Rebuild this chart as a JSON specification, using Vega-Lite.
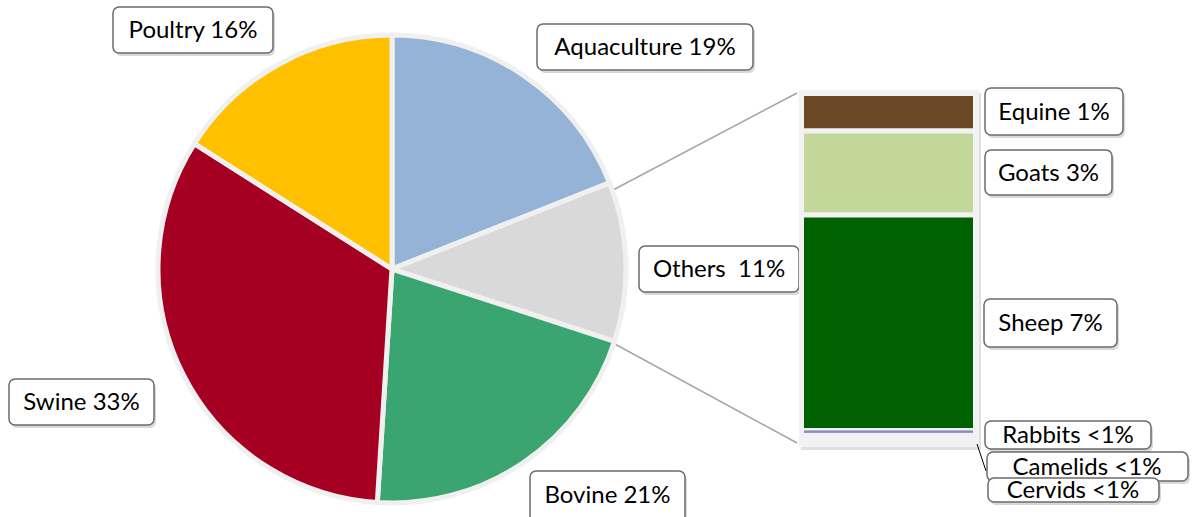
{
  "$schema": "https://vega.github.io/schema/vega-lite/v6.json",
  "width": 1192,
  "height": 517,
  "autosize": {"type": "fit", "contains": "padding"},
  "padding": 0,
  "background": "#ffffff",
  "config": {"view": {"stroke": null}, "axis": {"disable": true}},
  "datasets": {
    "main": [
      {"category": "Aquaculture", "value": 19, "idx": 1},
      {"category": "Others", "value": 11, "idx": 2},
      {"category": "Bovine", "value": 21, "idx": 3},
      {"category": "Swine", "value": 33, "idx": 4},
      {"category": "Poultry", "value": 16, "idx": 5}
    ],
    "others": [
      {"category": "Equine", "value": 1.21, "idx": 1},
      {"category": "Goats", "value": 2.71, "idx": 2},
      {"category": "Sheep", "value": 6.95, "idx": 3},
      {"category": "Rabbits", "value": 0.04, "idx": 4},
      {"category": "Camelids", "value": 0.02, "idx": 5},
      {"category": "Cervids", "value": 0.02, "idx": 6}
    ]
  },
  "layer": [
    {
      "layer": [
        {
          "data": {"values": [{}]},
          "mark": {"type": "rule", "color": "#a6a6a6", "strokeWidth": 1.5},
          "encoding": {
            "x": {"datum": 613, "type": "quantitative", "scale": {"domain": [0, 1192], "nice": false, "zero": false}, "axis": null},
            "y": {"datum": 190, "type": "quantitative", "scale": {"domain": [0, 517], "reverse": true, "nice": false, "zero": false}, "axis": null},
            "x2": {"datum": 797},
            "y2": {"datum": 93}
          }
        },
        {
          "data": {"values": [{}]},
          "mark": {"type": "rule", "color": "#a6a6a6", "strokeWidth": 1.5},
          "encoding": {
            "x": {"datum": 613},
            "y": {"datum": 343},
            "x2": {"datum": 797},
            "y2": {"datum": 443}
          }
        },
        {
          "data": {"name": "main"},
          "mark": {"type": "arc", "outerRadius": 234, "stroke": "#f0f0f0", "strokeWidth": 5},
          "encoding": {
            "theta": {"field": "value", "type": "quantitative", "stack": true},
            "order": {"field": "idx", "type": "quantitative"},
            "color": {
              "field": "category",
              "type": "nominal",
              "legend": null,
              "scale": {
                "domain": ["Aquaculture", "Others", "Bovine", "Swine", "Poultry", "Equine", "Goats", "Sheep", "Rabbits", "Camelids", "Cervids"],
                "range": ["#95B3D7", "#D9D9D9", "#3BA571", "#A50021", "#FFC000", "#6B4725", "#C4D79B", "#006100", "#7676B6", "#7070B0", "#8080C0"]
              }
            },
            "x": {"datum": 392},
            "y": {"datum": 269}
          }
        },
        {
          "data": {"values": [{}]},
          "mark": {"type": "rect", "fill": "#000000", "opacity": 0.12, "xOffset": 2, "x2Offset": 2, "yOffset": 3, "y2Offset": 3},
          "encoding": {"x": {"datum": 799}, "x2": {"datum": 979}, "y": {"datum": 90}, "y2": {"datum": 447}}
        },
        {
          "data": {"values": [{}]},
          "mark": {"type": "rect", "fill": "#f2f2f2"},
          "encoding": {"x": {"datum": 799}, "x2": {"datum": 979}, "y": {"datum": 90}, "y2": {"datum": 447}}
        },
        {
          "data": {"values": [{}]},
          "mark": {"type": "rule", "color": "#000000", "strokeWidth": 1},
          "encoding": {"x": {"datum": 977}, "y": {"datum": 444}, "x2": {"datum": 986}, "y2": {"datum": 471}}
        },
        {
          "data": {"values": [{"t": "Poultry 16%"}]},
          "layer": [
            {"mark": {"type": "rect", "fill": "#000", "opacity": 0.15, "cornerRadius": 6, "xOffset": 2, "x2Offset": 2, "yOffset": 3, "y2Offset": 3}, "encoding": {"x": {"datum": 113}, "x2": {"datum": 273}, "y": {"datum": 7}, "y2": {"datum": 53}}},
            {"mark": {"type": "rect", "fill": "#fff", "stroke": "#6b6b6b", "strokeWidth": 1.5, "cornerRadius": 6}, "encoding": {"x": {"datum": 113}, "x2": {"datum": 273}, "y": {"datum": 7}, "y2": {"datum": 53}}},
            {"mark": {"type": "text", "font": "Lato", "fontSize": 24, "color": "#000", "align": "center", "baseline": "middle"}, "encoding": {"x": {"datum": 193}, "y": {"datum": 31}, "text": {"field": "t"}}}
          ]
        },
        {
          "data": {"values": [{"t": "Aquaculture 19%"}]},
          "layer": [
            {"mark": {"type": "rect", "fill": "#000", "opacity": 0.15, "cornerRadius": 6, "xOffset": 2, "x2Offset": 2, "yOffset": 3, "y2Offset": 3}, "encoding": {"x": {"datum": 537}, "x2": {"datum": 753}, "y": {"datum": 24}, "y2": {"datum": 70}}},
            {"mark": {"type": "rect", "fill": "#fff", "stroke": "#6b6b6b", "strokeWidth": 1.5, "cornerRadius": 6}, "encoding": {"x": {"datum": 537}, "x2": {"datum": 753}, "y": {"datum": 24}, "y2": {"datum": 70}}},
            {"mark": {"type": "text", "font": "Lato", "fontSize": 24, "color": "#000", "align": "center", "baseline": "middle"}, "encoding": {"x": {"datum": 645}, "y": {"datum": 48}, "text": {"field": "t"}}}
          ]
        },
        {
          "data": {"values": [{"t": "Others \u00a011%"}]},
          "layer": [
            {"mark": {"type": "rect", "fill": "#000", "opacity": 0.15, "cornerRadius": 6, "xOffset": 2, "x2Offset": 2, "yOffset": 3, "y2Offset": 3}, "encoding": {"x": {"datum": 639}, "x2": {"datum": 799}, "y": {"datum": 246}, "y2": {"datum": 292}}},
            {"mark": {"type": "rect", "fill": "#fff", "stroke": "#6b6b6b", "strokeWidth": 1.5, "cornerRadius": 6}, "encoding": {"x": {"datum": 639}, "x2": {"datum": 799}, "y": {"datum": 246}, "y2": {"datum": 292}}},
            {"mark": {"type": "text", "font": "Lato", "fontSize": 24, "color": "#000", "align": "center", "baseline": "middle"}, "encoding": {"x": {"datum": 719}, "y": {"datum": 270}, "text": {"field": "t"}}}
          ]
        },
        {
          "data": {"values": [{"t": "Swine 33%"}]},
          "layer": [
            {"mark": {"type": "rect", "fill": "#000", "opacity": 0.15, "cornerRadius": 6, "xOffset": 2, "x2Offset": 2, "yOffset": 3, "y2Offset": 3}, "encoding": {"x": {"datum": 9}, "x2": {"datum": 154}, "y": {"datum": 379}, "y2": {"datum": 425}}},
            {"mark": {"type": "rect", "fill": "#fff", "stroke": "#6b6b6b", "strokeWidth": 1.5, "cornerRadius": 6}, "encoding": {"x": {"datum": 9}, "x2": {"datum": 154}, "y": {"datum": 379}, "y2": {"datum": 425}}},
            {"mark": {"type": "text", "font": "Lato", "fontSize": 24, "color": "#000", "align": "center", "baseline": "middle"}, "encoding": {"x": {"datum": 81.5}, "y": {"datum": 403}, "text": {"field": "t"}}}
          ]
        },
        {
          "data": {"values": [{"t": "Bovine 21%"}]},
          "layer": [
            {"mark": {"type": "rect", "fill": "#000", "opacity": 0.15, "cornerRadius": 6, "clip": true, "xOffset": 2, "x2Offset": 2, "yOffset": 3, "y2Offset": 3}, "encoding": {"x": {"datum": 530}, "x2": {"datum": 685}, "y": {"datum": 471}, "y2": {"datum": 522}}},
            {"mark": {"type": "rect", "fill": "#fff", "stroke": "#6b6b6b", "strokeWidth": 1.5, "cornerRadius": 6, "clip": true}, "encoding": {"x": {"datum": 530}, "x2": {"datum": 685}, "y": {"datum": 471}, "y2": {"datum": 522}}},
            {"mark": {"type": "text", "font": "Lato", "fontSize": 24, "color": "#000", "align": "center", "baseline": "middle"}, "encoding": {"x": {"datum": 607.5}, "y": {"datum": 496}, "text": {"field": "t"}}}
          ]
        },
        {
          "data": {"values": [{"t": "Equine 1%"}]},
          "layer": [
            {"mark": {"type": "rect", "fill": "#000", "opacity": 0.15, "cornerRadius": 6, "xOffset": 2, "x2Offset": 2, "yOffset": 3, "y2Offset": 3}, "encoding": {"x": {"datum": 985}, "x2": {"datum": 1123}, "y": {"datum": 88}, "y2": {"datum": 135}}},
            {"mark": {"type": "rect", "fill": "#fff", "stroke": "#6b6b6b", "strokeWidth": 1.5, "cornerRadius": 6}, "encoding": {"x": {"datum": 985}, "x2": {"datum": 1123}, "y": {"datum": 88}, "y2": {"datum": 135}}},
            {"mark": {"type": "text", "font": "Lato", "fontSize": 24, "color": "#000", "align": "center", "baseline": "middle"}, "encoding": {"x": {"datum": 1054}, "y": {"datum": 112.5}, "text": {"field": "t"}}}
          ]
        },
        {
          "data": {"values": [{"t": "Goats 3%"}]},
          "layer": [
            {"mark": {"type": "rect", "fill": "#000", "opacity": 0.15, "cornerRadius": 6, "xOffset": 2, "x2Offset": 2, "yOffset": 3, "y2Offset": 3}, "encoding": {"x": {"datum": 985}, "x2": {"datum": 1112}, "y": {"datum": 150}, "y2": {"datum": 195}}},
            {"mark": {"type": "rect", "fill": "#fff", "stroke": "#6b6b6b", "strokeWidth": 1.5, "cornerRadius": 6}, "encoding": {"x": {"datum": 985}, "x2": {"datum": 1112}, "y": {"datum": 150}, "y2": {"datum": 195}}},
            {"mark": {"type": "text", "font": "Lato", "fontSize": 24, "color": "#000", "align": "center", "baseline": "middle"}, "encoding": {"x": {"datum": 1048.5}, "y": {"datum": 173.5}, "text": {"field": "t"}}}
          ]
        },
        {
          "data": {"values": [{"t": "Sheep 7%"}]},
          "layer": [
            {"mark": {"type": "rect", "fill": "#000", "opacity": 0.15, "cornerRadius": 6, "xOffset": 2, "x2Offset": 2, "yOffset": 3, "y2Offset": 3}, "encoding": {"x": {"datum": 984}, "x2": {"datum": 1117}, "y": {"datum": 299}, "y2": {"datum": 347}}},
            {"mark": {"type": "rect", "fill": "#fff", "stroke": "#6b6b6b", "strokeWidth": 1.5, "cornerRadius": 6}, "encoding": {"x": {"datum": 984}, "x2": {"datum": 1117}, "y": {"datum": 299}, "y2": {"datum": 347}}},
            {"mark": {"type": "text", "font": "Lato", "fontSize": 24, "color": "#000", "align": "center", "baseline": "middle"}, "encoding": {"x": {"datum": 1050.5}, "y": {"datum": 324}, "text": {"field": "t"}}}
          ]
        },
        {
          "data": {"values": [{"t": "Rabbits <1%"}]},
          "layer": [
            {"mark": {"type": "rect", "fill": "#000", "opacity": 0.15, "cornerRadius": 6, "xOffset": 2, "x2Offset": 2, "yOffset": 3, "y2Offset": 3}, "encoding": {"x": {"datum": 985}, "x2": {"datum": 1151}, "y": {"datum": 421}, "y2": {"datum": 449}}},
            {"mark": {"type": "rect", "fill": "#fff", "stroke": "#6b6b6b", "strokeWidth": 1.5, "cornerRadius": 6}, "encoding": {"x": {"datum": 985}, "x2": {"datum": 1151}, "y": {"datum": 421}, "y2": {"datum": 449}}},
            {"mark": {"type": "text", "font": "Lato", "fontSize": 24, "color": "#000", "align": "center", "baseline": "middle"}, "encoding": {"x": {"datum": 1068}, "y": {"datum": 436}, "text": {"field": "t"}}}
          ]
        },
        {
          "data": {"values": [{"t": "Camelids <1%"}]},
          "layer": [
            {"mark": {"type": "rect", "fill": "#000", "opacity": 0.15, "cornerRadius": 6, "xOffset": 2, "x2Offset": 2, "yOffset": 3, "y2Offset": 3}, "encoding": {"x": {"datum": 987}, "x2": {"datum": 1188}, "y": {"datum": 452}, "y2": {"datum": 481}}},
            {"mark": {"type": "rect", "fill": "#fff", "stroke": "#6b6b6b", "strokeWidth": 1.5, "cornerRadius": 6}, "encoding": {"x": {"datum": 987}, "x2": {"datum": 1188}, "y": {"datum": 452}, "y2": {"datum": 481}}},
            {"mark": {"type": "text", "font": "Lato", "fontSize": 24, "color": "#000", "align": "center", "baseline": "middle"}, "encoding": {"x": {"datum": 1087}, "y": {"datum": 468}, "text": {"field": "t"}}}
          ]
        },
        {
          "data": {"values": [{"t": "Cervids <1%"}]},
          "layer": [
            {"mark": {"type": "rect", "fill": "#000", "opacity": 0.15, "cornerRadius": 6, "xOffset": 2, "x2Offset": 2, "yOffset": 3, "y2Offset": 3}, "encoding": {"x": {"datum": 988}, "x2": {"datum": 1159}, "y": {"datum": 478}, "y2": {"datum": 502}}},
            {"mark": {"type": "rect", "fill": "#fff", "stroke": "#6b6b6b", "strokeWidth": 1.5, "cornerRadius": 6}, "encoding": {"x": {"datum": 988}, "x2": {"datum": 1159}, "y": {"datum": 478}, "y2": {"datum": 502}}},
            {"mark": {"type": "text", "font": "Lato", "fontSize": 24, "color": "#000", "align": "center", "baseline": "middle"}, "encoding": {"x": {"datum": 1073}, "y": {"datum": 491}, "text": {"field": "t"}}}
          ]
        }
      ]
    },
    {
      "data": {"name": "others"},
      "transform": [
        {"stack": "value", "groupby": [], "sort": [{"field": "idx", "order": "ascending"}], "as": ["v0", "v1"]}
      ],
      "layer": [
        {
          "transform": [{"filter": "datum.value >= 0.5"}],
          "mark": {"type": "rect", "stroke": "#f2f2f2", "strokeWidth": 5},
          "encoding": {
            "x": {"datum": 801.5},
            "x2": {"datum": 975.5},
            "y": {"field": "v0", "type": "quantitative", "scale": {"domain": [-3.016, 13.661], "reverse": true, "nice": false, "zero": false}, "axis": null},
            "y2": {"field": "v1"},
            "color": {"field": "category", "type": "nominal", "legend": null}
          }
        },
        {
          "transform": [{"filter": "datum.value < 0.5"}],
          "mark": {"type": "rect"},
          "encoding": {
            "x": {"datum": 804},
            "x2": {"datum": 973},
            "y": {"field": "v0", "type": "quantitative"},
            "y2": {"field": "v1"},
            "color": {"field": "category", "type": "nominal", "legend": null}
          }
        }
      ]
    }
  ],
  "resolve": {"scale": {"y": "independent"}}
}
